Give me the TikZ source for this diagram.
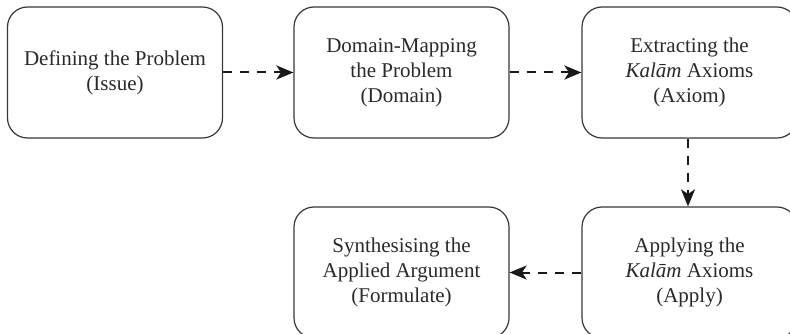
\documentclass[tikz,border=0pt]{standalone}
\usepackage{fontspec}
\setmainfont{Liberation Serif}
\usetikzlibrary{arrows.meta}
\definecolor{inkgray}{HTML}{2A2A2A}
\definecolor{linegray}{HTML}{383838}
\tikzset{
  stage/.style={draw=linegray, line width=1.2pt, rounded corners=20pt,
    minimum width=215pt, minimum height=131pt, align=center,
    text=inkgray, font=\fontsize{21}{25}\selectfont, fill=white},
  flow/.style={draw=black!90, line width=2pt, dash pattern=on 9pt off 8pt,
    -{Stealth[length=17pt,width=14pt,inset=4.5pt]}}
}
\begin{document}
\begin{tikzpicture}[x=1pt,y=-1pt]
\useasboundingbox (0,0) rectangle (790,334);
\node[stage] (issue)   at (115,72.5)   {Defining the Problem\\(Issue)};
\node[stage] (domain)  at (401.5,72.5) {Domain-Mapping\\the Problem\\(Domain)};
\node[stage] (axiom)   at (689.5,72.5) {Extracting the\\\textit{Kalām} Axioms\\(Axiom)};
\node[stage] (apply)   at (689.5,272.5) {Applying the\\\textit{Kalām} Axioms\\(Apply)};
\node[stage] (formulate) at (401.5,272.5) {Synthesising the\\Applied Argument\\(Formulate)};
\draw[flow] (issue) -- (domain);
\draw[flow] (domain) -- (axiom);
\draw[flow] (axiom.south -| 688,0) -- (apply.north -| 688,0);
\draw[flow] (apply) -- (formulate);
\end{tikzpicture}
\end{document}
